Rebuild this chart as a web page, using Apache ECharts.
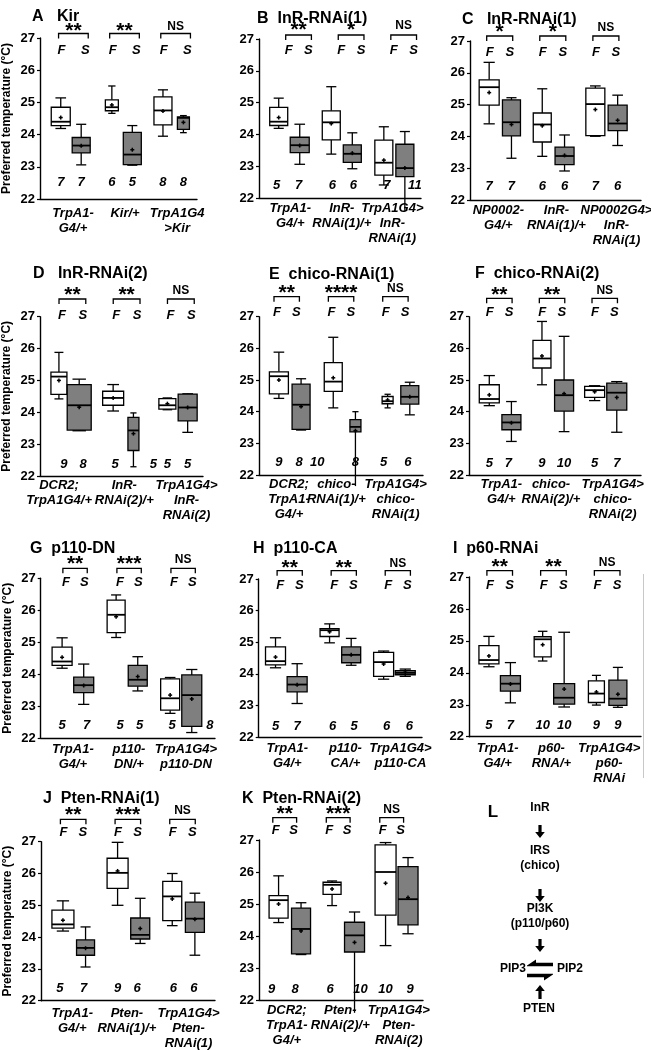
<!DOCTYPE html>
<html><head><meta charset="utf-8">
<script src="https://cdn.jsdelivr.net/npm/echarts@6/dist/echarts.min.js"></script>
<style>html,body{margin:0;padding:0;background:#fff}#c{width:651px;height:1050px}</style>
</head><body><div id="c"></div>
<script>
// ---- DATA: box statistics, order [min, q1, median, q3, max, mean] ----
const trpA1G4_F = [24.19, 24.28, 24.40, 24.85, 25.14, 24.53];
const trpA1G4_S = [23.06, 23.43, 23.66, 23.91, 24.32, 23.65];
const dcr2TrpA1G4_F = [24.42, 24.56, 25.12, 25.26, 25.88, 25.00];
const dcr2TrpA1G4_S = [23.42, 23.44, 24.22, 24.87, 25.04, 24.16];
const inrRNAi1_F = [23.38, 23.83, 24.38, 24.74, 25.50, 24.34];
const inrRNAi1_S = [22.92, 23.12, 23.39, 23.67, 24.05, 23.41];

const kir_F = [24.66, 24.74, 24.85, 25.08, 25.51, 24.92];
const kir_S = [23.05, 23.07, 23.38, 24.07, 24.28, 23.53];
const trpA1G4Kir_F = [23.95, 24.30, 24.75, 25.17, 25.39, 24.73];
const trpA1G4Kir_S = [24.06, 24.16, 24.52, 24.55, 24.59, 24.38];

const trpA1G4InR1_F = [22.41, 22.72, 23.11, 23.82, 24.24, 23.19];
const trpA1G4InR1_S = [21.60, 22.67, 22.94, 23.69, 24.09, 22.94];

const np0002_F = [24.40, 24.99, 25.55, 25.78, 26.33, 25.38];
const np0002_S = [23.32, 24.02, 24.45, 25.15, 25.22, 24.38];
const np0002InR1_F = [24.01, 24.03, 25.02, 25.52, 25.59, 24.85];
const np0002InR1_S = [23.72, 24.19, 24.41, 24.99, 25.30, 24.51];

const inrRNAi2_F = [24.04, 24.22, 24.45, 24.66, 24.87, 24.45];
const inrRNAi2_S = [22.29, 22.80, 23.43, 23.84, 23.98, 23.33];
const trpA1G4InR2_F = [24.08, 24.10, 24.22, 24.43, 24.45, 24.27];
const trpA1G4InR2_S = [23.37, 23.73, 24.15, 24.57, 24.58, 24.15];

const chico1_F = [24.12, 24.64, 24.95, 25.55, 26.35, 25.07];
const chico1_S = [21.65, 23.36, 23.52, 23.75, 24.00, 23.40];
const trpA1G4Chico1_F = [24.12, 24.25, 24.33, 24.48, 24.55, 24.37];
const trpA1G4Chico1_S = [23.90, 24.24, 24.47, 24.82, 24.93, 24.47];

const chico2_F = [24.85, 25.38, 25.68, 26.25, 26.85, 25.76];
const chico2_S = [23.37, 24.02, 24.52, 25.00, 26.38, 24.57];
const trpA1G4Chico2_F = [24.35, 24.45, 24.68, 24.80, 24.82, 24.63];
const trpA1G4Chico2_S = [23.35, 24.05, 24.60, 24.90, 24.95, 24.45];

const p110DN_F = [25.15, 25.30, 25.86, 26.32, 26.48, 25.80];
const p110DN_S = [23.48, 23.63, 23.83, 24.28, 24.55, 23.93];
const trpA1G4p110DN_F = [22.78, 22.88, 23.25, 23.86, 23.90, 23.35];
const trpA1G4p110DN_S = [22.18, 22.37, 23.35, 23.98, 24.15, 23.23];

const p110CA_F = [24.98, 25.18, 25.38, 25.43, 25.58, 25.33];
const p110CA_S = [24.27, 24.35, 24.60, 24.85, 25.12, 24.60];
const trpA1G4p110CA_F = [23.83, 23.92, 24.37, 24.68, 24.72, 24.31];
const trpA1G4p110CA_S = [23.92, 23.97, 24.03, 24.10, 24.15, 24.05];

const p60_F = [24.37, 24.50, 25.05, 25.13, 25.30, 24.88];
const p60_S = [22.93, 23.02, 23.22, 23.66, 25.27, 23.49];
const trpA1G4p60_F = [22.99, 23.07, 23.35, 23.75, 23.92, 23.40];
const trpA1G4p60_S = [22.92, 22.98, 23.19, 23.77, 24.17, 23.33];

const pten1_F = [25.00, 25.53, 26.02, 26.48, 26.98, 26.08];
const pten1_S = [23.80, 23.94, 24.07, 24.60, 25.22, 24.27];
const trpA1G4Pten1_F = [24.36, 24.52, 25.28, 25.75, 26.00, 25.20];
const trpA1G4Pten1_S = [23.43, 24.15, 24.58, 25.10, 25.38, 24.56];

const pten2_F = [24.95, 25.30, 25.60, 25.68, 25.72, 25.47];
const pten2_S = [21.60, 23.50, 24.02, 24.43, 24.75, 23.80];
const trpA1G4Pten2_F = [23.70, 24.65, 26.00, 26.85, 26.92, 25.65];
const trpA1G4Pten2_S = [24.07, 24.35, 25.15, 26.17, 26.45, 25.20];

// panel contents
const titles = ['A   Kir','B  InR-RNAi(1)','C   InR-RNAi(1)','D   InR-RNAi(2)','E  chico-RNAi(1)','F  chico-RNAi(2)','G  p110-DN','H  p110-CA','I  p60-RNAi','J  Pten-RNAi(1)','K  Pten-RNAi(2)'];
const groupsA = ['TrpA1-\nG4/+','Kir/+','TrpA1G4\n>Kir'];
const groupsB = ['TrpA1-\nG4/+','InR-\nRNAi(1)/+','TrpA1G4>\nInR-\nRNAi(1)'];
const groupsC = ['NP0002-\nG4/+','InR-\nRNAi(1)/+','NP0002G4>\nInR-\nRNAi(1)'];
const groupsD = ['DCR2;\nTrpA1G4/+','InR-\nRNAi(2)/+','TrpA1G4>\nInR-\nRNAi(2)'];
const groupsE = ['DCR2;\nTrpA1-\nG4/+','chico-\nRNAi(1)/+','TrpA1G4>\nchico-\nRNAi(1)'];
const groupsF = ['TrpA1-\nG4/+','chico-\nRNAi(2)/+','TrpA1G4>\nchico-\nRNAi(2)'];
const groupsG = ['TrpA1-\nG4/+','p110-\nDN/+','TrpA1G4>\np110-DN'];
const groupsH = ['TrpA1-\nG4/+','p110-\nCA/+','TrpA1G4>\np110-CA'];
const groupsI = ['TrpA1-\nG4/+','p60-\nRNA/+','TrpA1G4>\np60-\nRNAi'];
const groupsJ = ['TrpA1-\nG4/+','Pten-\nRNAi(1)/+','TrpA1G4>\nPten-\nRNAi(1)'];
const groupsK = ['DCR2;\nTrpA1-\nG4/+','Pten-\nRNAi(2)/+','TrpA1G4>\nPten-\nRNAi(2)'];

const boxesA = [trpA1G4_F, trpA1G4_S, kir_F, kir_S, trpA1G4Kir_F, trpA1G4Kir_S];
const boxesB = [trpA1G4_F, trpA1G4_S, inrRNAi1_F, inrRNAi1_S, trpA1G4InR1_F, trpA1G4InR1_S];
const boxesC = [np0002_F, np0002_S, inrRNAi1_F, inrRNAi1_S, np0002InR1_F, np0002InR1_S];
const boxesD = [dcr2TrpA1G4_F, dcr2TrpA1G4_S, inrRNAi2_F, inrRNAi2_S, trpA1G4InR2_F, trpA1G4InR2_S];
const boxesE = [dcr2TrpA1G4_F, dcr2TrpA1G4_S, chico1_F, chico1_S, trpA1G4Chico1_F, trpA1G4Chico1_S];
const boxesF = [trpA1G4_F, trpA1G4_S, chico2_F, chico2_S, trpA1G4Chico2_F, trpA1G4Chico2_S];
const boxesG = [trpA1G4_F, trpA1G4_S, p110DN_F, p110DN_S, trpA1G4p110DN_F, trpA1G4p110DN_S];
const boxesH = [trpA1G4_F, trpA1G4_S, p110CA_F, p110CA_S, trpA1G4p110CA_F, trpA1G4p110CA_S];
const boxesI = [trpA1G4_F, trpA1G4_S, p60_F, p60_S, trpA1G4p60_F, trpA1G4p60_S];
const boxesJ = [trpA1G4_F, trpA1G4_S, pten1_F, pten1_S, trpA1G4Pten1_F, trpA1G4Pten1_S];
const boxesK = [dcr2TrpA1G4_F, dcr2TrpA1G4_S, pten2_F, pten2_S, trpA1G4Pten2_F, trpA1G4Pten2_S];

const nA = [7,7,6,5,8,8], nB = [5,7,6,6,7,11], nC = [7,7,6,6,7,6], nD = [9,8,5,5,5,5];
const nE = [9,8,10,8,5,6], nF = [5,7,9,10,5,7], nG = [5,7,5,5,5,8], nH = [5,7,6,5,6,6];
const nI = [5,7,10,10,9,9], nJ = [5,7,9,6,6,6], nK = [9,8,6,10,10,9];

const sigA = ['**','**','NS'], sigB = ['**','*','NS'], sigC = ['*','*','NS'], sigD = ['**','**','NS'];
const sigE = ['**','****','NS'], sigF = ['**','**','NS'], sigG = ['**','***','NS'], sigH = ['**','**','NS'];
const sigI = ['**','**','NS'], sigJ = ['**','***','NS'], sigK = ['**','***','NS'];

const yTicks = [22, 27, 1]; // min, max, interval
const yTitle = 'Preferred temperature (°C)';

// ---- LAYOUT (pixels / axis units) ----
const panels = [
 {boxes:boxesA, n:nA, sig:sigA, groups:groupsA, left:40, right:197, top:38, bottom:199, xMin:.394, xMax:3.466, boff:.2, lblF:-.184, lblS:.279, fsDy:12.7, brDy:-4.5, stDy:-11, nDy:17, lm:7, bw:[19,18,13,18,18,12], nDx:[0,0,0,0,0,0], gDx:[2,3,4], tl:27, tt:4, yName:true},
 {boxes:boxesB, n:nB, sig:sigB, groups:groupsB, left:259, right:421, top:39, bottom:198, xMin:.425, xMax:3.507, boff:.2, lblF:-.01, lblS:.365, fsDy:11, brDy:-4, stDy:-13, nDy:13, lm:3, bw:[18,19,18,18,18,18], nDx:[-2,-1,1,1,3,10], gDx:[1,0,-2], tl:252, tt:6},
 {boxes:boxesC, n:nC, sig:sigC, groups:groupsC, left:470, right:641, top:41, bottom:200.3, xMin:.429, xMax:3.65, boff:.21, lblF:-.2, lblS:.177, fsDy:11.3, brDy:-5, stDy:-13.7, nDy:13.6, lm:3, bw:[20,18,18,19,19,19], nDx:[0,0,0,0,0,0], gDx:[-2,3,10], tl:457, tt:7},
 {boxes:boxesD, n:nD, sig:sigD, groups:groupsD, left:40, right:203, top:316.7, bottom:476, xMin:.464, xMax:3.47, boff:.187, lblF:-.13, lblS:.253, fsDy:-1, brDy:-17.7, stDy:-25.7, nDy:11.7, lm:2, bw:[16,24,21,11,17,19], nDx:[5,4,2,20,0,0], gDx:[-10,1,9], tl:28, tt:261, yName:true},
 {boxes:boxesE, n:nE, sig:sigE, groups:groupsE, left:259, right:423, top:316.7, bottom:475, xMin:.43, xMax:3.447, boff:.204, lblF:-.239, lblS:.118, fsDy:-4.4, brDy:-20, stDy:-28.4, nDy:12.7, lm:2, bw:[19,18,18,11,11,18], nDx:[0,-2,-16,0,-4,-2], gDx:[-1,-8,-3], tl:264, tt:262},
 {boxes:boxesF, n:nF, sig:sigF, groups:groupsF, left:469, right:641, top:316.7, bottom:475, xMin:.405, xMax:3.67, boff:.21, lblF:-.203, lblS:.166, fsDy:-4.4, brDy:-18.4, stDy:-25.7, nDy:12, lm:2, bw:[20,19,18,19,20,20], nDx:[0,-3,0,0,0,0], gDx:[1,-2,7], tl:470, tt:261},
 {boxes:boxesG, n:nG, sig:sigG, groups:groupsG, left:40.7, right:215, top:578.3, bottom:738.3, xMin:.404, xMax:3.63, boff:.2, lblF:-.13, lblS:.21, fsDy:4.4, brDy:-10, stDy:-18.3, nDy:13.3, lm:4, bw:[20,20,18,19,19,20], nDx:[0,3,4,2,2,18], gDx:[0,2,5], tl:25, tt:536, yName:true},
 {boxes:boxesH, n:nH, sig:sigH, groups:groupsH, left:258.7, right:422, top:579, bottom:737, xMin:.489, xMax:3.51, boff:.2, lblF:-.115, lblS:.24, fsDy:6, brDy:-8.3, stDy:-15.7, nDy:11, lm:4, bw:[20,20,19,19,20,20], nDx:[0,0,3,3,3,4], gDx:[1,5,6], tl:248, tt:536},
 {boxes:boxesI, n:nI, sig:sigI, groups:groupsI, left:469, right:641, top:577, bottom:736.7, xMin:.429, xMax:3.63, boff:.2, lblF:-.182, lblS:.183, fsDy:8, brDy:-6.3, stDy:-14.3, nDy:11, lm:4, bw:[20,20,17,21,16,18], nDx:[0,0,0,0,0,0], gDx:[-2,-2,2], tl:448, tt:536},
 {boxes:boxesJ, n:nJ, sig:sigJ, groups:groupsJ, left:41, right:215, top:841.7, bottom:1000.7, xMin:.392, xMax:3.575, boff:.207, lblF:-.198, lblS:.159, fsDy:-9, brDy:-22.4, stDy:-31, nDy:12.4, lm:5, bw:[22,18,21,19,19,19], nDx:[-3,-2,0,-3,1,-1], gDx:[-2,-2,5], tl:38, tt:786, yName:true},
 {boxes:boxesK, n:nK, sig:sigK, groups:groupsK, left:259, right:423, top:840, bottom:1000, xMin:.424, xMax:3.49, boff:.21, lblF:-.262, lblS:.071, fsDy:-10, brDy:-22.3, stDy:-30, nDy:10.7, lm:3, bw:[19,19,18,20,21,20], nDx:[-7,-6,-2,6,0,2], gDx:[-3,-3,2], tl:237, tt:786}
];

const FONT = "'Liberation Sans', Arial, Helvetica, sans-serif";
const GRAY = '#7f7f7f';
const chart = echarts.init(document.getElementById('c'), null, {renderer:'canvas'});

const grids = [], xAxes = [], yAxes = [], series = [], titleArr = [];
panels.forEach((P, k) => {
  grids.push({left:P.left, top:P.top, width:P.right - P.left, height:P.bottom - P.top, containLabel:false});
  titleArr.push({text:titles[k], left:P.tl, top:P.tt, textStyle:{fontFamily:FONT, fontSize:16, fontWeight:'bold', color:'#000'}});
  xAxes.push({type:'value', gridIndex:k, min:P.xMin, max:P.xMax,
    axisLine:{show:true, onZero:false, lineStyle:{color:'#000', width:1.4}},
    axisTick:{show:false}, splitLine:{show:false}, axisLabel:{show:false}});
  yAxes.push({type:'value', gridIndex:k, min:yTicks[0], max:yTicks[1], interval:yTicks[2],
    axisLine:{show:true, lineStyle:{color:'#000', width:1.4}},
    axisTick:{show:true, length:3, lineStyle:{color:'#000', width:1.2}}, splitLine:{show:false},
    axisLabel:{color:'#000', fontFamily:FONT, fontSize:13, fontWeight:'bold', margin:5, showMinLabel:true, showMaxLabel:true},
    name:P.yName ? yTitle : '', nameLocation:'middle', nameGap:27,
    nameTextStyle:{color:'#000', fontFamily:FONT, fontSize:12, fontWeight:'bold'}});

  const boxData = P.boxes.map((b, i) => {
    const g = Math.floor(i/2) + 1;
    const x = g + (i % 2 === 0 ? -P.boff : P.boff);
    return [x, b[0], b[1], b[2], b[3], b[4], b[5], P.n[i]];
  });
  series.push({type:'custom', xAxisIndex:k, yAxisIndex:k, clip:false, silent:true, data:boxData,
    renderItem:(params, api) => {
      const i = params.dataIndex;
      const x = api.value(0);
      const Y = (v) => api.coord([x, v])[1];
      const mn = api.value(1), q1 = api.value(2), md = api.value(3), q3 = api.value(4), mx = api.value(5), mean = api.value(6), n = api.value(7);
      const cx = api.coord([x, md])[0];
      const w = P.bw[i], cap = w * 0.28;
      const ls = {stroke:'#000', lineWidth:1.3};
      const yMx = Y(mx), yQ3 = Y(q3), yMd = Y(md), yQ1 = Y(q1), yMn = Y(mn), yMean = Y(mean), yBase = Y(22);
      const ch = [
        {type:'line', shape:{x1:cx, y1:yMx, x2:cx, y2:yQ3}, style:ls},
        {type:'line', shape:{x1:cx-cap, y1:yMx, x2:cx+cap, y2:yMx}, style:ls},
        {type:'line', shape:{x1:cx, y1:yQ1, x2:cx, y2:yMn}, style:ls},
      ];
      if (mn >= 22) ch.push({type:'line', shape:{x1:cx-cap, y1:yMn, x2:cx+cap, y2:yMn}, style:ls});
      ch.push({type:'rect', shape:{x:cx-w/2, y:yQ3, width:w, height:yQ1-yQ3}, style:{fill:(i%2)?GRAY:'#fff', stroke:'#000', lineWidth:1.3}});
      ch.push({type:'line', shape:{x1:cx-w/2, y1:yMd, x2:cx+w/2, y2:yMd}, style:{stroke:'#000', lineWidth:1.8}});
      ch.push({type:'line', shape:{x1:cx-2, y1:yMean, x2:cx+2, y2:yMean}, style:{stroke:'#000', lineWidth:1.5}});
      ch.push({type:'line', shape:{x1:cx, y1:yMean-2, x2:cx, y2:yMean+2}, style:{stroke:'#000', lineWidth:1.5}});
      ch.push({type:'text', x:cx + P.nDx[i], y:yBase - P.nDy, style:{text:String(n), fill:'#000', font:"italic bold 13px " + FONT, align:'center', verticalAlign:'middle'}});
      return {type:'group', children:ch};
    }});

  series.push({type:'custom', xAxisIndex:k, yAxisIndex:k, clip:false, silent:true, data:[[1,27],[2,27],[3,27]],
    renderItem:(params, api) => {
      const gi = params.dataIndex;
      const g = api.value(0);
      const top = api.coord([g, 27])[1];
      const base = api.coord([g, 22]);
      const xF = api.coord([g + P.lblF, 27])[0], xS = api.coord([g + P.lblS, 27])[0];
      const by = top + P.brDy;
      const s = P.sig[gi];
      const isStar = s.indexOf('*') >= 0;
      const fs = isStar ? 21 : 12;
      return {type:'group', children:[
        {type:'polyline', shape:{points:[[xF-3, by+5],[xF-3, by],[xS+3, by],[xS+3, by+5]]}, style:{stroke:'#000', lineWidth:1.3, fill:null}},
        {type:'text', x:(xF+xS)/2, y:top + P.stDy + (isStar ? fs*0.22 : 0), style:{text:s, fill:'#000', font:"bold " + fs + "px " + FONT, align:'center', verticalAlign:'middle'}},
        {type:'text', x:xF, y:top + P.fsDy, style:{text:'F', fill:'#000', font:"italic bold 13px " + FONT, align:'center', verticalAlign:'middle'}},
        {type:'text', x:xS, y:top + P.fsDy, style:{text:'S', fill:'#000', font:"italic bold 13px " + FONT, align:'center', verticalAlign:'middle'}},
        {type:'text', x:base[0] + P.gDx[gi], y:base[1] + P.lm, style:{text:P.groups[gi], fill:'#000', font:"italic bold 13px " + FONT, lineHeight:15, align:'center', verticalAlign:'top'}}
      ]};
    }});
});

// ---- Panel L: pathway diagram ----
const pathText = [
  ['L', 493, 812, 17], ['InR', 540, 808, 12], ['IRS', 540, 851, 12], ['(chico)', 540, 866, 12],
  ['PI3K', 540, 909, 12], ['(p110/p60)', 540, 924, 12], ['PIP3', 513, 969, 12], ['PIP2', 570, 969, 12], ['PTEN', 539, 1009, 12]
];
const graphics = pathText.map(t => ({type:'text', x:t[1], y:t[2], style:{text:t[0], fill:'#000', font:'bold ' + t[3] + 'px ' + FONT, align:'center', verticalAlign:'middle'}}));
function downArrow(x, y1, y2) { // y1 top, y2 tip
  return {type:'polygon', shape:{points:[[x-1.6,y1],[x+1.6,y1],[x+1.6,y2-6],[x+4.8,y2-6],[x,y2],[x-4.8,y2-6],[x-1.6,y2-6]]}, style:{fill:'#000'}};
}
function upArrow(x, y1, y2) { // y1 tip (top), y2 bottom
  return {type:'polygon', shape:{points:[[x,y1],[x+4.8,y1+6],[x+1.6,y1+6],[x+1.6,y2],[x-1.6,y2],[x-1.6,y1+6],[x-4.8,y1+6]]}, style:{fill:'#000'}};
}
graphics.push(downArrow(540, 825, 838), downArrow(540, 889, 902), downArrow(540, 939, 952), upArrow(540, 985, 999));
// upper arrow pointing left (to PIP3), lower arrow pointing right (to PIP2), half-headed
graphics.push({type:'polygon', shape:{points:[[527,965.5],[536,959.5],[536,962.8],[553,962.8],[553,966.3],[527,966.3]]}, style:{fill:'#000'}});
graphics.push({type:'polygon', shape:{points:[[553,974.5],[544,980.5],[544,977.2],[527,977.2],[527,973.7],[553,973.7]]}, style:{fill:'#000'}});
// thin frame line at the right edge of panel I
graphics.push({type:'line', shape:{x1:643.5, y1:574, x2:643.5, y2:778}, style:{stroke:'#c8c8c8', lineWidth:1}});

chart.setOption({
  animation:false,
  backgroundColor:'#fff',
  title:titleArr,
  grid:grids, xAxis:xAxes, yAxis:yAxes, series:series,
  graphic:graphics
});
</script>
</body></html>
